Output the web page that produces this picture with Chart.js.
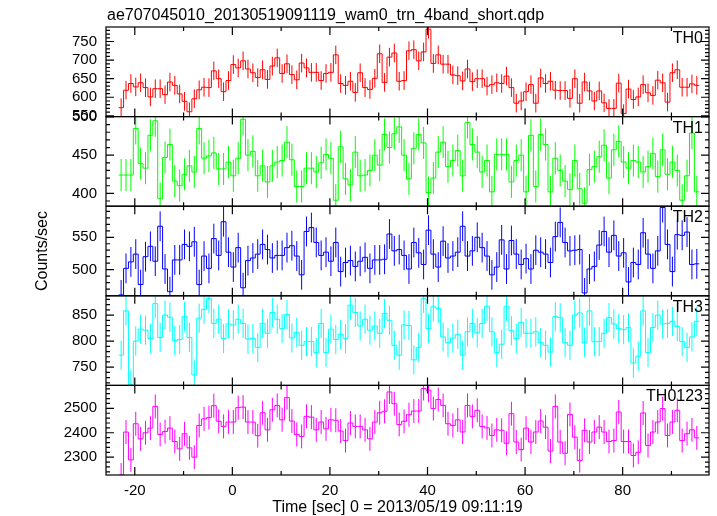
<!DOCTYPE html>
<html>
<head>
<meta charset="utf-8">
<script src="https://cdn.jsdelivr.net/npm/chart.js@4.4.1/dist/chart.umd.min.js"></script>
<style>
  html, body { margin: 0; padding: 0; background: #fff; }
</style>
</head>
<body>
<canvas id="myChart" width="717" height="516"></canvas>
<script>
// 1 s bins, time in sec from 2013/05/19 09:11:19
const binStart = -23.3;
const binSec = 1.0;

// count rates (counts/sec), one value per bin
const th0 = [
  572, 619, 637, 628, 639, 626, 601, 623, 623, 607,
  641, 632, 609, 589, 561, 596, 620, 627, 626, 671,
  650, 615, 645, 688, 679, 698, 676, 666, 653, 674,
  648, 684, 706, 664, 690, 661, 647, 692, 679, 667,
  667, 645, 664, 667, 714, 637, 632, 643, 613, 666,
  626, 621, 651, 717, 640, 708, 719, 643, 645, 725,
  728, 698, 722, 783, 691, 714, 689, 689, 660, 658,
  644, 676, 642, 650, 650, 630, 634, 639, 637, 657,
  626, 584, 590, 615, 634, 584, 652, 637, 643, 619,
  618, 618, 597, 650, 584, 641, 617, 590, 617, 585,
  570, 570, 638, 556, 622, 594, 601, 634, 612, 605,
  646, 639, 587, 666, 674, 627, 627, 636, 632
];
const th1 = [
  424, 424, 424, 485, 439, 433, 476, 495, 393, 447,
  464, 416, 410, 425, 436, 428, 485, 446, 449, 453,
  432, 432, 441, 423, 446, 497, 450, 455, 423, 436,
  415, 436, 441, 443, 467, 444, 409, 409, 433, 433,
  428, 440, 451, 446, 391, 461, 419, 411, 454, 423,
  424, 430, 450, 437, 477, 460, 478, 487, 450, 419,
  459, 477, 466, 401, 420, 454, 467, 435, 443, 456,
  423, 493, 464, 454, 428, 443, 402, 451, 451, 451,
  415, 443, 450, 402, 476, 409, 477, 464, 402, 446,
  430, 416, 405, 443, 406, 387, 431, 435, 448, 463,
  420, 457, 468, 441, 433, 443, 441, 428, 435, 452,
  422, 457, 425, 441, 430, 391, 423, 479, 402
];
const th2 = [
  461, 502, 512, 524, 477, 520, 536, 513, 567, 501,
  466, 515, 515, 539, 536, 543, 477, 521, 502, 548,
  522, 574, 527, 504, 534, 472, 514, 518, 524, 539,
  531, 518, 522, 522, 534, 537, 521, 492, 559, 565,
  542, 522, 527, 513, 542, 497, 511, 514, 505, 513,
  519, 502, 515, 515, 516, 555, 529, 531, 522, 501,
  542, 526, 508, 561, 524, 504, 544, 518, 521, 527,
  567, 521, 529, 550, 534, 521, 492, 504, 546, 501,
  545, 524, 508, 517, 501, 530, 527, 524, 511, 551,
  573, 542, 529, 530, 531, 464, 501, 505, 538, 559,
  527, 553, 521, 526, 481, 511, 508, 557, 524, 502,
  529, 596, 539, 497, 554, 553, 558, 508, 509
];
const th3 = [
  773, 858, 717, 800, 823, 821, 805, 872, 807, 850,
  846, 801, 803, 847, 807, 735, 844, 861, 882, 834,
  842, 805, 833, 831, 842, 834, 804, 805, 788, 834,
  815, 855, 842, 824, 851, 806, 817, 792, 799, 799,
  778, 834, 778, 823, 803, 813, 805, 869, 855, 829,
  842, 821, 829, 815, 853, 840, 792, 773, 831, 830,
  764, 788, 882, 824, 866, 863, 808, 797, 806, 813,
  773, 818, 834, 816, 834, 867, 818, 778, 794, 867,
  820, 805, 836, 815, 815, 818, 797, 792, 779, 847,
  845, 797, 792, 850, 854, 797, 858, 799, 799, 815,
  845, 833, 824, 822, 826, 758, 771, 858, 778, 826,
  850, 833, 834, 838, 828, 799, 788, 808, 838
];
const th0123 = [
  2227, 2403, 2289, 2437, 2375, 2400, 2419, 2508, 2393, 2405,
  2419, 2364, 2334, 2396, 2338, 2300, 2430, 2457, 2462, 2511,
  2447, 2426, 2444, 2444, 2503, 2505, 2444, 2444, 2388, 2482,
  2412, 2494, 2512, 2453, 2544, 2448, 2393, 2385, 2467, 2464,
  2412, 2444, 2416, 2453, 2451, 2407, 2368, 2440, 2426, 2426,
  2412, 2375, 2444, 2482, 2488, 2567, 2519, 2434, 2447, 2474,
  2489, 2489, 2581, 2574, 2499, 2536, 2512, 2437, 2430, 2453,
  2403, 2512, 2467, 2492, 2426, 2420, 2389, 2412, 2410, 2357,
  2478, 2362, 2331, 2419, 2362, 2403, 2448, 2423, 2325, 2508,
  2362, 2316, 2475, 2382, 2286, 2410, 2362, 2403, 2423, 2403,
  2364, 2368, 2485, 2364, 2364, 2307, 2320, 2481, 2348, 2403,
  2444, 2499, 2389, 2444, 2492, 2368, 2396, 2412, 2379
];

const bandNames = ['TH0', 'TH1', 'TH2', 'TH3', 'TH0123'];
const bandErr = [25, 21, 23, 28, 49];        // typical 1 sigma per bin
const yMin = [548, 383.2, 459.6, 715, 2227];
const yMax = [789, 500.5, 598, 887, 2594];
const yStep = [50, 50, 50, 50, 100];
const yMinor = [10, 10, 10, 10, 20];

const series = [th0, th1, th2, th3, th0123];
const colors = ['#ff0000', '#00ff00', '#0000ff', '#00ffff', '#ff00ff'];
const fileName = 'ae707045010_20130519091119_wam0_trn_4band_short.qdp';
const xLabel = 'Time [sec] 0 = 2013/05/19 09:11:19';

const family = "'Liberation Sans', Arial, Helvetica, sans-serif";
Chart.defaults.font.family = family;
Chart.defaults.color = '#000';

// points at bin left edges + closing edge, drawn as steps
function stepPoints(vals) {
  const pts = vals.map((v, j) => ({x: binStart + j * binSec, y: v}));
  pts.push({x: binStart + vals.length * binSec, y: vals[vals.length - 1]});
  return pts;
}

// error bars, frames, inward ticks and texts (qdp look)
const qdpFrame = {
  id: 'qdpFrame',
  beforeDatasetsDraw(chart) {
    const ctx = chart.ctx;
    const xs = chart.scales.x;
    series.forEach((vals, i) => {
      const ys = chart.scales['y' + i];
      ctx.save();
      ctx.beginPath();
      ctx.rect(xs.left, ys.top, xs.right - xs.left, ys.bottom - ys.top);
      ctx.clip();
      ctx.strokeStyle = colors[i];
      ctx.lineWidth = 1;
      ctx.beginPath();
      vals.forEach((v, j) => {
        const px = xs.getPixelForValue(binStart + (j + 0.5) * binSec);
        ctx.moveTo(px, ys.getPixelForValue(v - bandErr[i]));
        ctx.lineTo(px, ys.getPixelForValue(v + bandErr[i]));
      });
      ctx.stroke();
      ctx.restore();
    });
  },
  afterDatasetsDraw(chart) {
    const ctx = chart.ctx;
    const xs = chart.scales.x;
    const area = chart.chartArea;
    ctx.save();
    ctx.strokeStyle = '#000';
    ctx.lineWidth = 1.2;
    series.forEach((vals, i) => {
      const ys = chart.scales['y' + i];
      ctx.strokeRect(area.left, ys.top, area.right - area.left, ys.bottom - ys.top);
      ctx.beginPath();
      // y ticks, left and right
      for (let v = Math.ceil(ys.min / yMinor[i]) * yMinor[i]; v <= ys.max; v += yMinor[i]) {
        const py = ys.getPixelForValue(v);
        const len = v % yStep[i] === 0 ? 8 : 4;
        ctx.moveTo(area.left, py); ctx.lineTo(area.left + len, py);
        ctx.moveTo(area.right, py); ctx.lineTo(area.right - len, py);
      }
      // x ticks, top and bottom of every panel
      for (let t = Math.ceil(xs.min / 10) * 10; t <= xs.max; t += 10) {
        const px = xs.getPixelForValue(t);
        const len = t % 20 === 0 ? 8 : 4;
        ctx.moveTo(px, ys.top); ctx.lineTo(px, ys.top + len);
        ctx.moveTo(px, ys.bottom); ctx.lineTo(px, ys.bottom - len);
      }
      ctx.stroke();
      ctx.fillStyle = '#000';
      ctx.font = '16px ' + family;
      ctx.textAlign = 'right';
      ctx.textBaseline = 'alphabetic';
      ctx.fillText(bandNames[i], area.right - 6, ys.top + 16);
    });
    ctx.textAlign = 'left';
    ctx.fillText(fileName, area.left + 1, 20);
    ctx.textAlign = 'center';
    ctx.fillText(xLabel, (area.left + area.right) / 2 - 10, 512);
    ctx.restore();
  }
};

const scales = {
  x: {
    type: 'linear',
    position: 'bottom',
    min: -25.9,
    max: 97.7,
    grid: {display: false, drawTicks: false},
    border: {display: false},
    ticks: {stepSize: 20, includeBounds: false, maxRotation: 0, padding: 7, font: {size: 15}},
    afterFit: (s) => { s.height = 41; }
  }
};
series.forEach((vals, i) => {
  scales['y' + i] = {
    type: 'linear',
    position: 'left',
    stack: 'panels',
    stackWeight: 1,
    weight: series.length - i,
    min: yMin[i],
    max: yMax[i],
    grid: {display: false, drawTicks: false},
    border: {display: false},
    ticks: {
      stepSize: yStep[i],
      includeBounds: false,
      autoSkip: false,
      padding: 9,
      font: {size: 15},
      callback: (v) => String(v)
    },
    title: {display: i === 2, text: 'Counts/sec', font: {size: 16}, padding: {top: 33, bottom: 0}},
    afterFit: (s) => { s.width = 106; }
  };
});

var ctx = document.getElementById('myChart').getContext('2d');
var chart = new Chart(ctx, {
  type: 'line',
  data: {
    datasets: series.map((vals, i) => ({
      label: bandNames[i],
      data: stepPoints(vals),
      xAxisID: 'x',
      yAxisID: 'y' + i,
      borderColor: colors[i],
      borderWidth: 1,
      pointRadius: 0,
      stepped: true,
      fill: false,
      clip: 0
    }))
  },
  plugins: [qdpFrame],
  options: {
    responsive: false,
    animation: false,
    layout: {padding: {left: 0, right: 8, top: 27, bottom: 0}},
    plugins: {
      legend: {display: false},
      title: {display: false},
      tooltip: {enabled: false}
    },
    scales: scales
  }
});
</script>
</body>
</html>
